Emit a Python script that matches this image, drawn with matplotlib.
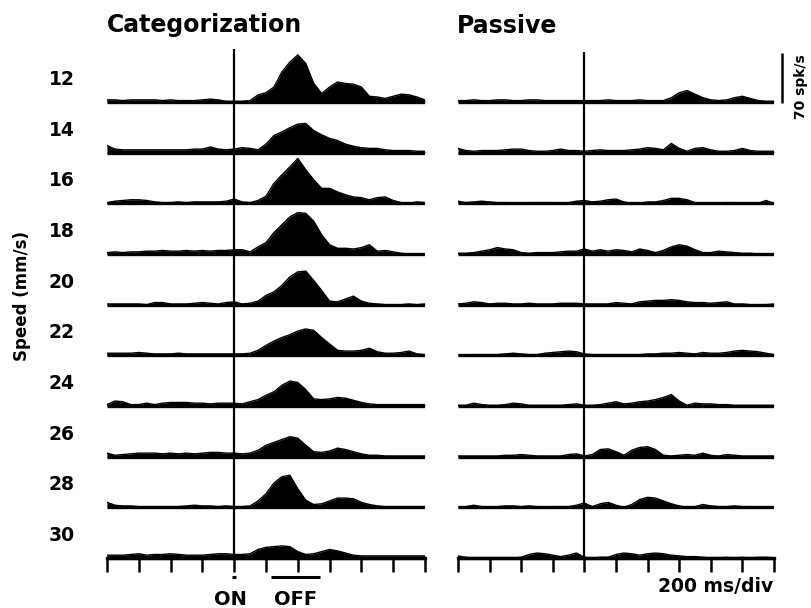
import numpy as np
import matplotlib
matplotlib.use("Agg")
import matplotlib.pyplot as plt

# time axis (ms relative to stimulus onset), 50 ms bins
time_ms = np.arange(-800, 1201, 50)
speeds = [12, 14, 16, 18, 20, 22, 24, 26, 28, 30]
tick_ms = np.arange(-800, 1201, 200)

# firing rates (spk/s), Categorization task
cat_12 = [3,3,2,3,3,3,3,2,3,2,2,2,3,4,3,1,1,1,2,10,13,21,42,56,66,54,26,12,21,28,26,25,21,8,7,5,8,11,10,7,3]
cat_14 = [10,5,4,4,4,4,4,4,4,4,4,5,5,8,5,4,5,7,6,4,12,24,29,35,40,41,31,25,20,17,12,9,7,6,6,4,3,3,3,2,2]
cat_16 = [1,3,4,5,5,4,2,1,1,2,1,2,2,2,2,3,6,2,1,4,10,28,40,51,63,47,33,21,21,16,12,9,8,5,8,9,4,1,0,2,1]
cat_18 = [2,3,2,3,3,4,4,5,4,4,5,4,5,4,5,5,6,6,3,10,16,30,41,52,58,57,46,27,13,8,8,7,9,13,4,5,3,1,0,0,0]
cat_20 = [1,1,1,1,1,0,3,3,1,1,1,2,3,2,1,3,4,1,2,5,13,18,27,39,46,47,34,20,5,4,8,12,5,2,1,0,0,0,1,0,1]
cat_22 = [3,3,3,3,4,3,2,2,2,3,2,2,2,2,2,2,2,2,3,7,14,20,25,29,34,37,35,25,16,7,6,6,7,10,5,3,3,4,6,2,1]
cat_24 = [2,7,6,2,2,4,2,4,5,5,5,4,4,3,4,4,4,3,6,9,15,20,29,35,33,23,10,9,10,12,11,8,5,3,2,2,2,2,2,2,2]
cat_26 = [5,2,3,4,5,5,5,4,5,4,5,4,5,6,6,5,5,4,5,9,16,20,24,28,26,16,7,6,8,12,10,7,4,2,2,1,1,1,1,1,1]
cat_28 = [7,3,2,2,1,1,1,1,1,1,2,3,2,2,1,2,1,1,2,9,19,34,43,45,26,10,4,5,9,13,13,12,7,4,2,1,1,1,1,1,1]
cat_30 = [4,4,4,5,6,4,5,5,6,5,4,4,4,5,6,6,5,5,6,12,15,16,17,16,9,5,6,9,12,10,7,4,3,3,3,3,3,3,3,3,3]

# firing rates (spk/s), Passive condition
pas_12 = [2,2,3,2,2,3,3,2,2,3,3,2,2,2,2,2,2,2,2,3,2,2,2,3,2,2,2,6,13,16,11,6,3,2,3,6,8,5,2,1,1]
pas_14 = [6,3,2,3,3,3,4,5,5,3,2,2,3,5,3,3,2,3,4,3,3,3,4,5,7,6,4,13,6,2,6,7,4,2,2,3,6,3,2,2,2]
pas_16 = [3,1,2,3,2,1,1,0,0,1,1,1,1,0,1,3,4,2,3,5,6,2,0,0,2,2,4,7,7,5,1,0,0,0,1,1,0,0,0,4,0]
pas_18 = [1,1,2,4,6,9,7,6,2,1,2,2,2,3,4,4,7,4,6,4,6,5,3,7,5,2,5,10,13,11,6,2,2,4,3,2,1,1,0,0,0]
pas_20 = [1,2,4,3,1,2,2,1,1,2,1,1,1,2,2,2,1,1,1,1,3,2,1,4,5,6,6,7,6,4,3,3,2,3,4,1,1,0,0,0,1]
pas_22 = [0,0,1,1,1,1,2,3,2,1,1,3,4,5,6,5,2,1,1,1,1,1,1,1,2,2,3,3,4,3,2,4,3,3,4,6,7,6,5,3,1]
pas_24 = [1,1,4,2,1,1,2,4,3,1,1,1,1,1,2,3,1,1,2,4,6,3,4,6,7,9,12,16,7,1,4,3,3,2,2,1,1,1,1,1,1]
pas_26 = [1,1,1,1,1,1,2,2,3,2,1,1,1,1,3,4,1,3,10,11,7,2,9,13,14,10,2,1,2,3,2,5,2,1,3,2,1,1,1,1,1]
pas_28 = [0,1,3,1,0,1,2,2,1,2,1,0,1,1,1,3,6,1,5,7,3,0,4,11,14,13,9,5,2,0,1,4,2,1,1,2,1,1,0,0,0]
pas_30 = [3,1,0,0,0,0,0,0,1,5,7,6,4,2,4,7,1,0,1,1,5,7,6,4,6,7,6,4,3,2,2,1,0,0,1,0,1,0,1,1,0]

cat_rows = [cat_12, cat_14, cat_16, cat_18, cat_20, cat_22, cat_24, cat_26, cat_28, cat_30]
pas_rows = [pas_12, pas_14, pas_16, pas_18, pas_20, pas_22, pas_24, pas_26, pas_28, pas_30]

on_bar = [-12, 12]
off_bar = [230, 540]
scale_spk = 70

ROW = 71.0                     # vertical spacing between rows (spk/s units)
W, H = 811, 608
k = 50.67 / ROW                # px per spk/s
ytop = 102 / k
ybot = -(H - 102) / k

fig = plt.figure(figsize=(W / 100, H / 100), dpi=100)
axL = fig.add_axes([107 / W, 0, 318 / W, 1])
axR = fig.add_axes([458 / W, 0, 316 / W, 1])

for ax, rows, vtop in ((axL, cat_rows, 74), (axR, pas_rows, 70)):
    ax.set_xlim(-800, 1200)
    ax.set_ylim(ybot, ytop)
    for i, vals in enumerate(rows):
        off = -i * ROW
        v = np.asarray(vals, dtype=float)
        ax.fill_between(time_ms, off, off + v, color="black", lw=0)
        ax.plot(time_ms, off + v, color="black", lw=1.0, solid_joinstyle="round")
        ax.plot([-800, 1200], [off, off], color="black", lw=2.4, solid_capstyle="butt")
    bottom = -(len(rows) - 1) * ROW
    ax.plot([0, 0], [bottom, vtop], color="black", lw=1.6, solid_capstyle="butt")
    # bottom time axis
    for s in ("top", "right", "left"):
        ax.spines[s].set_visible(False)
    ax.spines["bottom"].set_position(("data", bottom))
    ax.spines["bottom"].set_linewidth(2.4)
    ax.spines["bottom"].set_bounds(-800, 1200)
    ax.set_xticks(tick_ms)
    ax.set_xticklabels([])
    ax.set_yticks([])
    ax.tick_params(axis="x", direction="out", length=10, width=1.8, color="black")
    ax.patch.set_visible(False)

# speed labels
for i, sp in enumerate(speeds):
    off = -i * ROW
    axL.text(-800 - 45 / 0.159, off + 17 / k, str(sp), ha="center", va="baseline",
             fontsize=13.5, fontweight="bold", clip_on=False)

# ON / OFF bars
ybar = -(577 - 102) / k
axL.plot(on_bar, [ybar, ybar], color="black", lw=2.2, solid_capstyle="butt", clip_on=False)
axL.plot(off_bar, [ybar, ybar], color="black", lw=2.2, solid_capstyle="butt", clip_on=False)
ytxt = -(605 - 102) / k
axL.text(-25, ytxt, "ON", ha="center", va="baseline", fontsize=14, fontweight="bold")
axL.text(385, ytxt, "OFF", ha="center", va="baseline", fontsize=14, fontweight="bold")

# scale bar
xs = 1200 + (782 - 774) / 0.158
axR.plot([xs, xs], [-1.0, scale_spk - 1.0], color="black", lw=1.8, solid_capstyle="butt", clip_on=False)
fig.text(801 / W, 1 - 87 / H, "70 spk/s", rotation=90, ha="center", va="center",
         fontsize=10, fontweight="bold")

# titles and labels
fig.text(107 / W, 1 - 32 / H, "Categorization", ha="left", va="baseline",
         fontsize=17, fontweight="bold")
fig.text(457 / W, 1 - 33 / H, "Passive", ha="left", va="baseline",
         fontsize=17, fontweight="bold")
fig.text(22 / W, 1 - 296 / H, "Speed (mm/s)", rotation=90, ha="center", va="center",
         fontsize=12, fontweight="bold")
fig.text(773 / W, 1 - 592 / H, "200 ms/div", ha="right", va="baseline",
         fontsize=13.5, fontweight="bold")

fig.savefig("out.png", dpi=100, facecolor="white")
